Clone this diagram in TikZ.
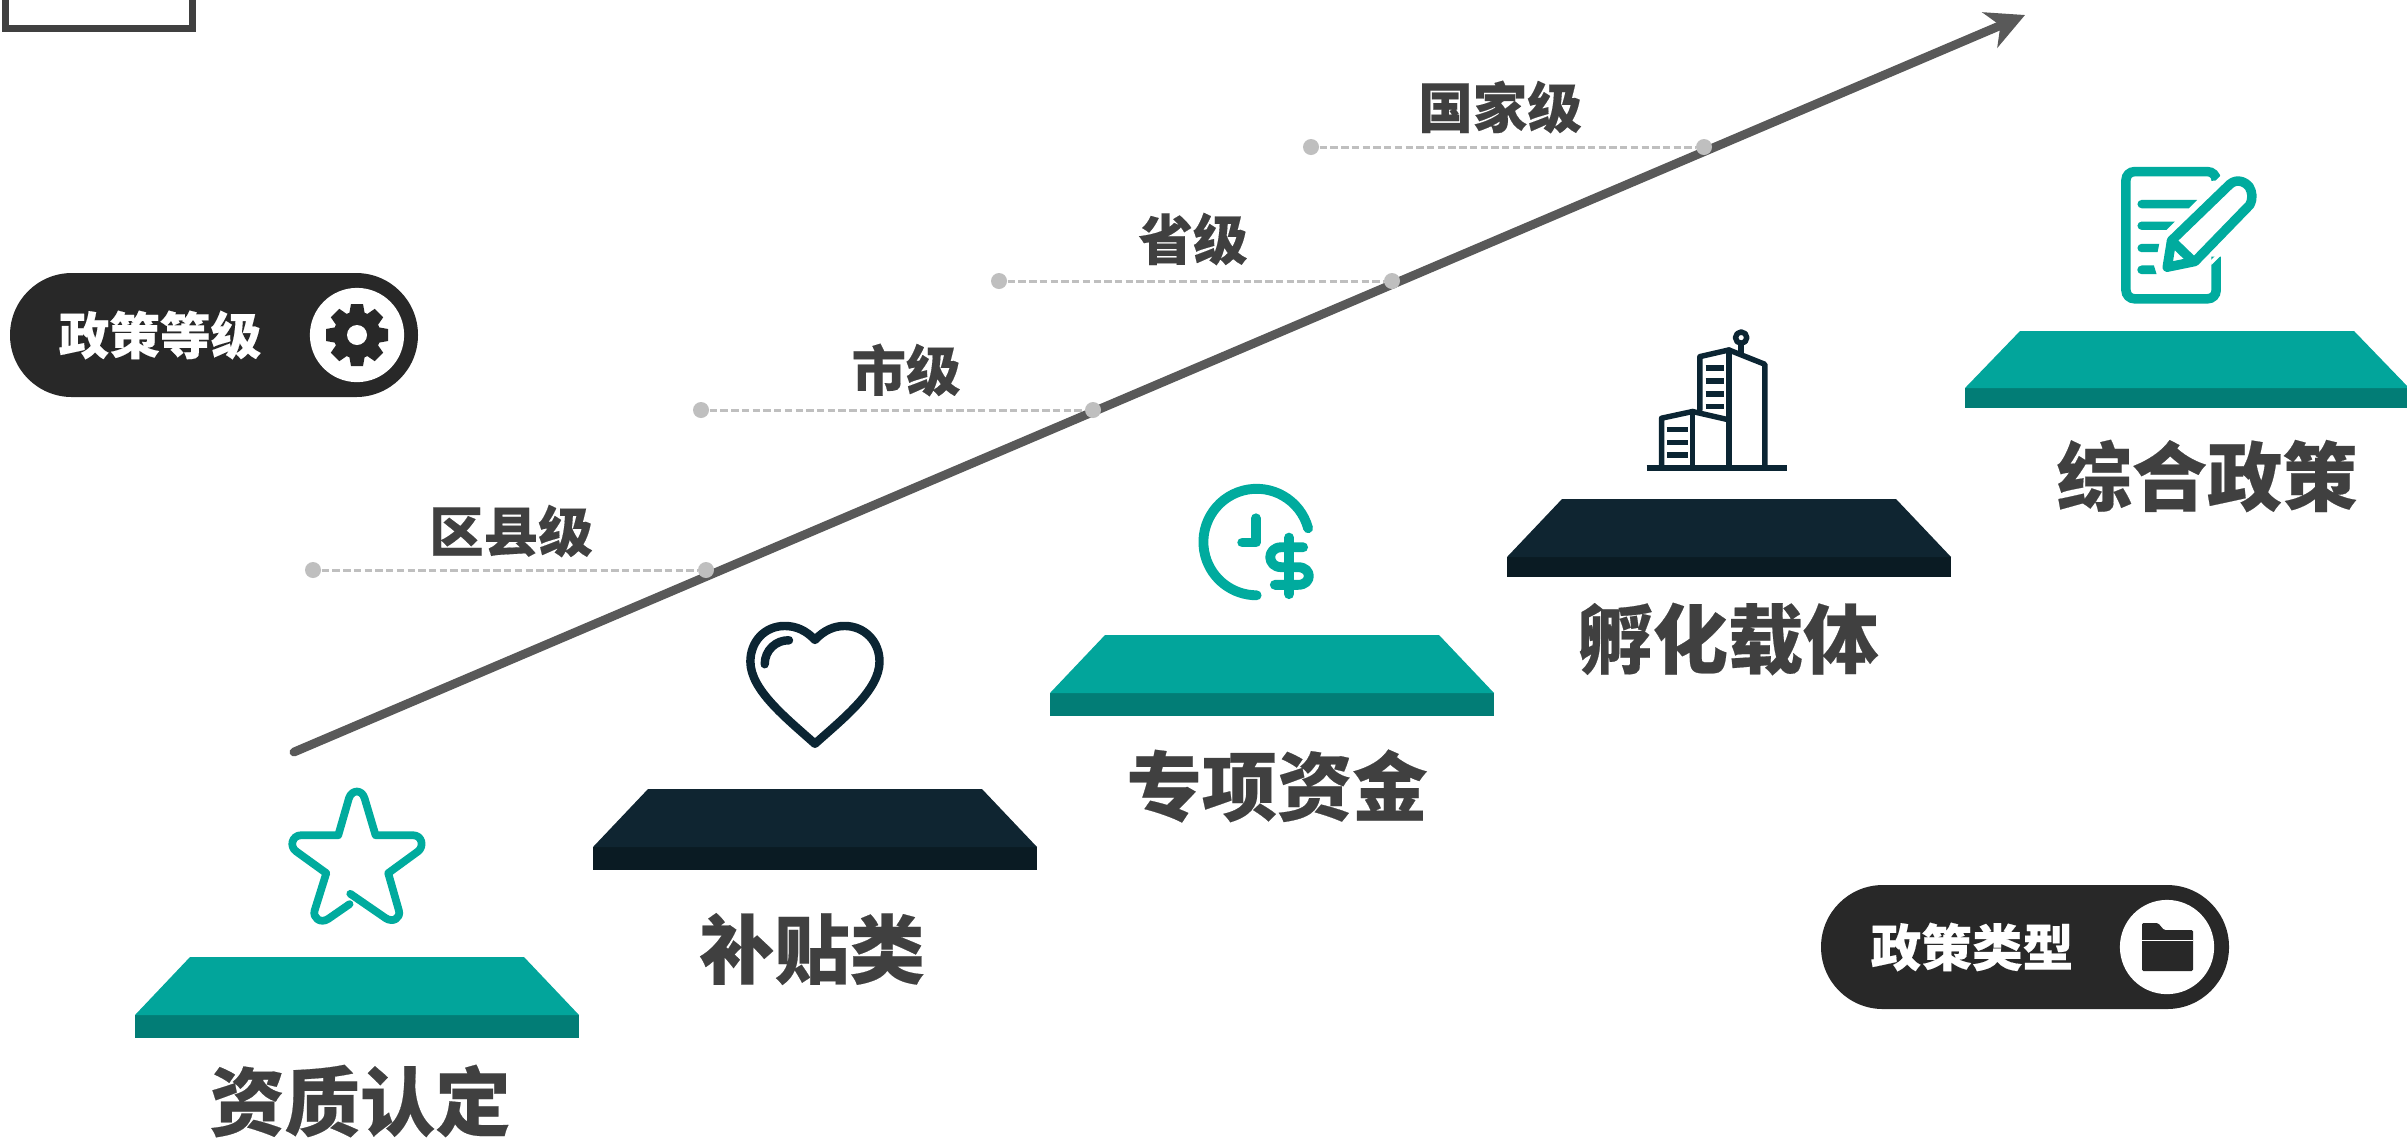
\documentclass[tikz,border=0pt]{standalone}
\usepackage{fontspec}
\usetikzlibrary{arrows.meta}
\setmainfont{Noto Sans CJK SC}[BoldFont={* Black}]
\newfontfamily\cjkheavy{Noto Sans CJK SC}[BoldFont={* Black},BoldFeatures={FakeBold=0.25}]
\definecolor{tealtop}{HTML}{02A59B}
\definecolor{tealside}{HTML}{027D76}
\definecolor{darktop}{HTML}{0F2531}
\definecolor{darkside}{HTML}{0A1B23}
\definecolor{iconteal}{HTML}{00AB9E}
\definecolor{icondark}{HTML}{0B2533}
\definecolor{pillc}{HTML}{282828}
\definecolor{labelc}{HTML}{404040}
\definecolor{arrowc}{HTML}{595959}
\definecolor{dotc}{HTML}{BFBFBF}
\tikzset{
  biglabel/.style={inner sep=0pt,text=labelc,font=\cjkheavy\bfseries\fontsize{21.4}{21.4}\selectfont},
  levellabel/.style={inner sep=0pt,text=labelc,font=\cjkheavy\bfseries\fontsize{15.5}{15.5}\selectfont},
  pilllabel/.style={inner sep=0pt,text=white,font=\cjkheavy\bfseries\fontsize{14.4}{14.4}\selectfont},
  leveldot/.style={circle,fill=dotc,inner sep=0pt,minimum size=4.55pt},
  levelline/.style={draw=dotc,line width=0.85pt,dash pattern=on 2.1pt off 0.95pt},
  pillbox/.style={fill=pillc,rounded corners=17.6pt},
  pillhole/.style={circle,fill=white,inner sep=0pt,minimum size=26.8pt},
  zoomed/.style={x=0.003333cm,y=-0.003333cm},
  tealicon/.style={draw=iconteal,line cap=round,line join=round},
  darkicon/.style={draw=icondark,line cap=round,line join=round},
}
% #1 left x, #2 top y, #3 mid y, #4 bottom y, #5 top colour, #6 side colour
\newcommand{\platform}[6]{%
  \fill[#6] (#1,#3) rectangle (#1+444,#4);
  \fill[#5] (#1,#3) -- (#1+55,#2) -- (#1+389,#2) -- (#1+444,#3) -- cycle;
}
\begin{document}
\begin{tikzpicture}[x=0.01cm,y=-0.01cm]
\useasboundingbox (0,0) rectangle (2407,1138);
\fill[white] (0,0) rectangle (2407,1138);
% top-left cut-off frame
\draw[labelc,line width=2.1pt] (5.5,-10) -- (5.5,28.5) -- (192.5,28.5) -- (192.5,-10);
% main arrow
\coordinate (arrowstart) at (294,752);
\coordinate (arrowend) at (2025,15);
\draw[arrowc,line width=2.5pt,line cap=round,-{Stealth[length=10.8pt,width=10.8pt,inset=3.2pt]}] (arrowstart) -- (arrowend);
% level lines
\node[leveldot] (la1) at (313,570) {};
\node[leveldot] (la2) at (706,570) {};
\draw[levelline] (la1) -- (la2);
\node[leveldot] (lb1) at (701,410) {};
\node[leveldot] (lb2) at (1093,410) {};
\draw[levelline] (lb1) -- (lb2);
\node[leveldot] (lc1) at (999,281) {};
\node[leveldot] (lc2) at (1392,281) {};
\draw[levelline] (lc1) -- (lc2);
\node[leveldot] (ld1) at (1311,147) {};
\node[leveldot] (ld2) at (1704,147) {};
\draw[levelline] (ld1) -- (ld2);
\node[levellabel] (t1) at (511,531) {区县级};
\node[levellabel] (t2) at (906,370) {市级};
\node[levellabel] (t3) at (1193,239) {省级};
\node[levellabel] (t4) at (1500,107) {国家级};
% platforms
\platform{135}{957}{1015}{1038}{tealtop}{tealside}
\platform{593}{789}{847}{870}{darktop}{darkside}
\platform{1050}{635}{693}{716}{tealtop}{tealside}
\platform{1507}{499}{557}{577}{darktop}{darkside}
\platform{1965}{331}{388}{408}{tealtop}{tealside}
% big labels
\node[biglabel] (b1) at (360,1101) {资质认定};
\node[biglabel] (b2) at (812,949) {补贴类};
\node[biglabel] (b3) at (1277,786) {专项资金};
\node[biglabel] (b4) at (1728,639) {孵化载体};
\node[biglabel] (b5) at (2207,476) {综合政策};
% pill 1
\fill[pillbox] (10,273) rectangle (418,397);
\node[pilllabel] (p1) at (160,335) {政策等级};
\node[pillhole] (p1c) at (357,335) {};
\fill[pillc] (p1c) circle (23.5);
\foreach \a in {0,45,...,315}{
  \fill[pillc,shift={(357,335)},rotate=\a] (-6,-31) -- (6,-31) -- (8,-20) -- (-8,-20) -- cycle;
}
\fill[white] (p1c) circle (10);
% pill 2
\fill[pillbox] (1821,885) rectangle (2229,1009);
\node[pilllabel] (p2) at (1972,947) {政策类型};
\node[pillhole] (p2c) at (2167,947) {};
\fill[pillc,rounded corners=0.4pt] (2142,971) -- (2142,923) -- (2158,923) -- (2164,930) -- (2193,930) -- (2193,971) -- cycle;
\fill[white] (2142,939.5) rectangle (2193,941);
% star
\begin{scope}[shift={(100,740)},zoomed]
\draw[tealicon,line width=2.2pt]
  (752,462) -- (858,535) .. controls (880,550) and (905,535) .. (898,512)
  -- (866,400) -- (955,335) .. controls (975,320) and (968,286) .. (940,286)
  -- (828,286) -- (795,175) .. controls (787,148) and (757,148) .. (748,175)
  -- (716,286) -- (605,286) .. controls (577,286) and (568,320) .. (590,335)
  -- (680,400) -- (645,512) .. controls (638,535) and (663,552) .. (685,538)
  -- (750,493);
\end{scope}
% heart
\begin{scope}[shift={(580,590)},zoomed]
\draw[darkicon,line width=2.4pt]
  (706,150) .. controls (680,122) and (650,108) .. (615,108)
  .. controls (555,108) and (512,155) .. (512,215)
  .. controls (512,300) and (620,385) .. (706,462)
  .. controls (792,385) and (900,300) .. (900,215)
  .. controls (900,155) and (855,108) .. (795,108)
  .. controls (762,108) and (732,122) .. (706,150);
\draw[darkicon,line width=2.4pt] (628,151) .. controls (590,150) and (555,180) .. (555,223);
\end{scope}
% clock dollar
\begin{scope}[shift={(1150,470)},zoomed]
\draw[tealicon,line width=2.8pt] (475,175) arc[start angle=-15,end angle=-270,radius=160];
\draw[tealicon,line width=2.8pt] (318,145) -- (318,218) -- (277,218);
\draw[tealicon,line width=2.8pt] (418,203) -- (418,373);
\draw[tealicon,line width=2.8pt] (460,232) -- (395,232) .. controls (350,232) and (350,292) .. (395,292) -- (445,292) .. controls (488,292) and (488,345) .. (445,345) -- (375,345);
\end{scope}
% buildings
\begin{scope}[shift={(1620,310)},zoomed]
\draw[icondark,line width=1.7pt] (80,474) -- (502,474);
\draw[darkicon,line width=1.55pt] (240,300) -- (240,140) -- (327,120) -- (435,163) -- (435,474);
\draw[darkicon,line width=1.55pt] (327,120) -- (327,474);
\draw[darkicon,line width=1.55pt] (125,474) -- (125,325) -- (218,305) -- (327,330);
\draw[darkicon,line width=1.55pt] (218,305) -- (218,474);
\draw[darkicon,line width=1.55pt] (364,130) -- (364,101);
\draw[darkicon,line width=1.55pt] (364,83) circle (17);
\foreach \y in {174,213,252,290}{\draw[icondark,line width=1.5pt] (257,\y) -- (311,\y);}
\foreach \y in {359,398,436}{\draw[icondark,line width=1.5pt] (141,\y) -- (203,\y);}
\end{scope}
% document and pencil
\begin{scope}[shift={(2090,150)},zoomed]
\draw[draw=iconteal,line width=2.7pt,rounded corners=2.4pt] (379,92) -- (379,65) -- (108,65) -- (108,447) -- (379,447) -- (379,320);
\fill[white] (362,108) -- (400,70) -- (400,90) -- (375,110) -- cycle;
\fill[white] (362,332) -- (400,295) -- (400,310) -- (365,345) -- cycle;
\fill[iconteal] (155,150) -- (322,150) -- (297,175) -- (155,175) arc[start angle=90,end angle=270,radius=12.5];
\fill[iconteal] (155,215) -- (255,215) -- (230,240) -- (155,240) arc[start angle=90,end angle=270,radius=12.5];
\fill[iconteal] (155,282) -- (208,282) -- (203,307) -- (155,307) arc[start angle=90,end angle=270,radius=12.5];
\fill[iconteal] (155,347) -- (192,347) -- (200,373) -- (155,373) arc[start angle=90,end angle=270,radius=13];
\draw[tealicon,line width=2.7pt]
  (245,272) -- (420,103) .. controls (445,82) and (470,100) .. (478,110)
  .. controls (488,128) and (490,145) .. (480,165)
  -- (315,335) -- (232,352) -- cycle;
\draw[tealicon,line width=2.7pt] (245,272) -- (305,330);
\end{scope}
\end{tikzpicture}
\end{document}
